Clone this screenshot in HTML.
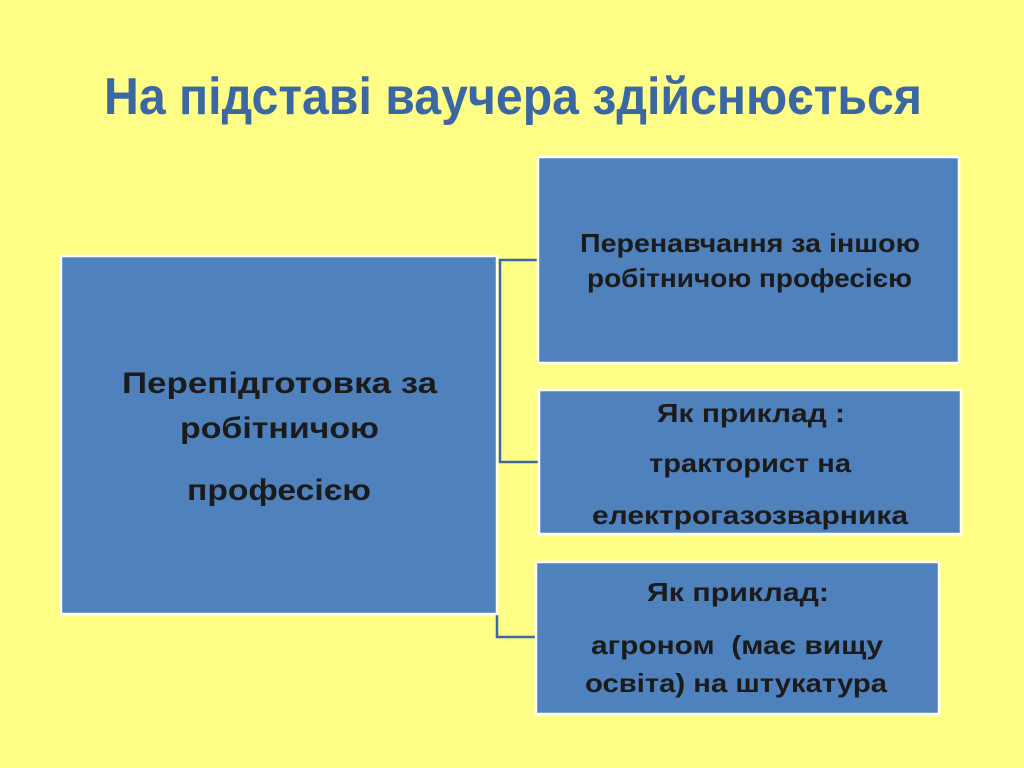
<!DOCTYPE html>
<html><head><meta charset="utf-8"><style>
html,body{margin:0;padding:0;background:#FFFF88;}
svg{display:block}
text{font-family:"Liberation Sans","DejaVu Sans",sans-serif;font-weight:bold;}
</style></head><body>
<svg width="1024" height="768" viewBox="0 0 1024 768" xmlns="http://www.w3.org/2000/svg">
<rect width="1024" height="768" fill="#FFFF88"/>
<text x="104" y="114" font-size="52" fill="#3B68A3" textLength="818" lengthAdjust="spacingAndGlyphs">На підставі ваучера здійснюється</text>
<g fill="none" stroke="#3F67A0" stroke-width="2.5">
<polyline points="538,260 500,260 500,462 538,462"/>
<polyline points="497,615 497,637 535,637"/>
</g>
<g fill="#4F81BD" stroke="#fff" stroke-width="2.5">
<rect x="61" y="256" width="436" height="358"/>
<rect x="538" y="157" width="421" height="206"/>
<rect x="539" y="390" width="422" height="144"/>
<rect x="536" y="562" width="403" height="152"/>
</g>
<g fill="#1b1b1b" font-size="26">
<text x="580" y="252" textLength="340" lengthAdjust="spacingAndGlyphs">Перенавчання за іншою</text>
<text x="587" y="287" textLength="325" lengthAdjust="spacingAndGlyphs">робітничою професією</text>
<text x="122" y="393" font-size="30" textLength="315" lengthAdjust="spacingAndGlyphs">Перепідготовка за</text>
<text x="180" y="438" font-size="30" textLength="199" lengthAdjust="spacingAndGlyphs">робітничою</text>
<text x="187" y="500" font-size="30" textLength="184" lengthAdjust="spacingAndGlyphs">професією</text>
<text x="657" y="422" textLength="188" lengthAdjust="spacingAndGlyphs">Як приклад :</text>
<text x="649" y="472" textLength="202" lengthAdjust="spacingAndGlyphs">тракторист на</text>
<text x="592" y="524" textLength="316" lengthAdjust="spacingAndGlyphs">електрогазозварника</text>
<text x="647" y="601" textLength="182" lengthAdjust="spacingAndGlyphs">Як приклад:</text>
<text x="591" y="654" textLength="292" lengthAdjust="spacingAndGlyphs" xml:space="preserve">агроном  (має вищу</text>
<text x="585" y="692" textLength="302" lengthAdjust="spacingAndGlyphs">освіта) на штукатура</text>
</g>
</svg>
</body></html>
